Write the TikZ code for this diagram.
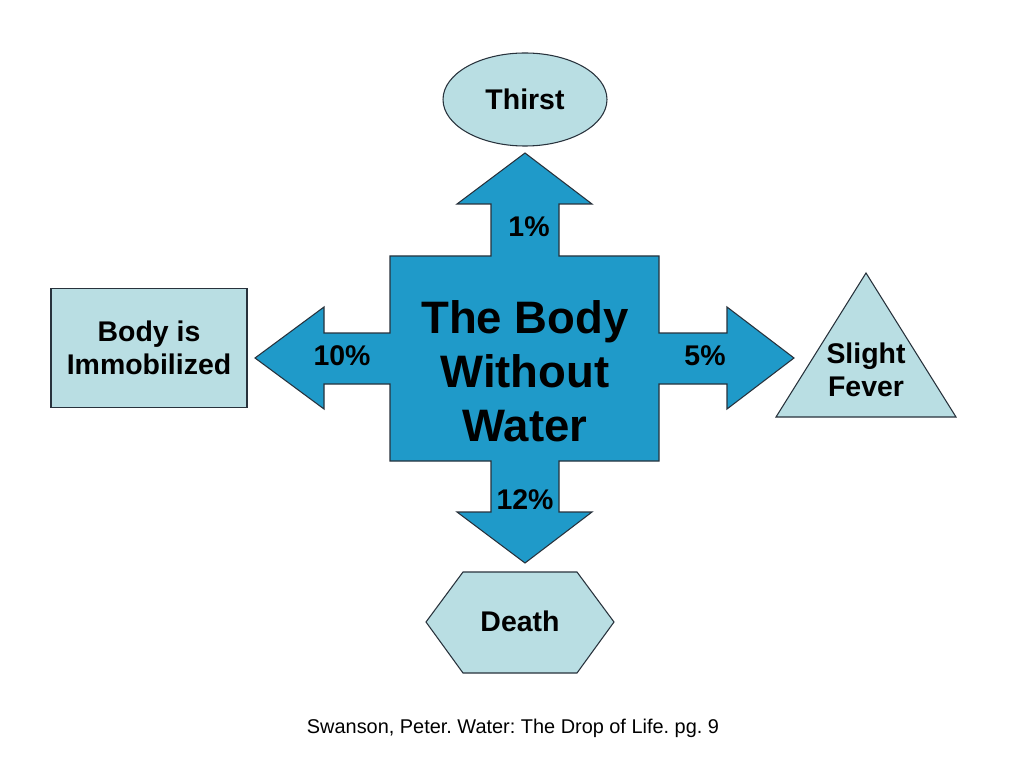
\documentclass[tikz,border=0pt]{standalone}
\usepackage{fontspec}
\setmainfont{Liberation Sans}
\usepackage{tikz}
\usetikzlibrary{shapes.geometric}
\frenchspacing

\definecolor{arrowblue}{RGB}{31,154,201}
\definecolor{paleblue}{RGB}{185,222,227}
\definecolor{edgegray}{RGB}{40,50,60}

\begin{document}
\begin{tikzpicture}[x=0.703125pt,y=-0.703125pt,
  outcome/.style={draw=edgegray,fill=paleblue,line width=0.75pt,inner sep=0pt,
    font=\fontsize{20}{23}\selectfont\bfseries,align=center},
  label/.style={font=\fontsize{20}{23}\selectfont\bfseries,align=center,inner sep=0pt},
  percent/.style={font=\fontsize{20}{23}\selectfont\bfseries,inner sep=0pt}]

\useasboundingbox[fill=white] (0,0) rectangle (1024,768);

% the four-way arrow
\filldraw[fill=arrowblue,draw=edgegray,line width=0.75pt]
  (390,256) -- (491,256) -- (491,204) -- (457,204) -- (525,153) -- (592,204) -- (559,204) -- (559,256)
  -- (659,256) -- (659,333) -- (727,333) -- (727,307) -- (794,358) -- (727,409) -- (727,384) -- (659,384)
  -- (659,461) -- (559,461) -- (559,512) -- (592,512) -- (525,563) -- (457,512) -- (491,512) -- (491,461)
  -- (390,461) -- (390,384) -- (324,384) -- (324,409) -- (255,358) -- (324,307) -- (324,333) -- (390,333)
  -- cycle;
\node (body) at (525,371) [align=center,inner sep=0pt,
  font=\fontsize{32}{38}\selectfont\bfseries] {The Body\\Without\\Water};

\node (up) at (529,227) [percent] {1\%};
\node (left) at (342,356) [percent] {10\%};
\node (right) at (705,356) [percent] {5\%};
\node (down) at (525,500) [percent] {12\%};

% outcomes
\node (thirst) at (525,99.5) [outcome,ellipse,minimum width=115.3pt,minimum height=65.4pt] {Thirst};
\node (immobile) at (149,348) [outcome,rectangle,minimum width=137.8pt,minimum height=83.7pt]
  {Body is\\Immobilized};

\filldraw[fill=paleblue,draw=edgegray,line width=0.75pt]
  (866,273) -- (956,417) -- (776,417) -- cycle;
\node (fever) at (866,370) [label] {Slight\\Fever};

\filldraw[fill=paleblue,draw=edgegray,line width=0.75pt]
  (426,622) -- (463,572) -- (577,572) -- (614,622) -- (577,673) -- (463,673) -- cycle;
\node (death) at (520,621) [label] {Death};

\node (source) at (513,733) [anchor=base,font=\fontsize{14}{16}\selectfont]
  {Swanson, Peter. Water: The Drop of Life. pg. 9};

\end{tikzpicture}
\end{document}
